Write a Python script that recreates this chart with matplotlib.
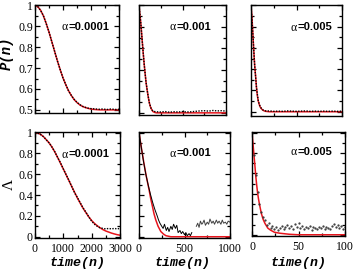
import matplotlib
matplotlib.use("Agg")
import matplotlib.pyplot as plt
from matplotlib.ticker import MultipleLocator, FormatStrFormatter

# ---- data ----
alphas = ["=0.0001", "=0.001", "=0.005"]

# alpha = 0.0001, P(n)
n_a1 = [0, 100, 200, 300, 400, 500, 600, 700, 800, 900, 1000, 1100, 1200, 1300, 1400, 1500,
        1600, 1700, 1800, 1900, 2000, 2100, 2200, 2300, 2400, 2500, 2600, 2700, 2800, 2900, 3000]
p_fit_a1 = [1.0, 0.994, 0.977, 0.950, 0.914, 0.872, 0.827, 0.780, 0.735, 0.692, 0.653, 0.620,
            0.591, 0.568, 0.549, 0.535, 0.524, 0.516, 0.511, 0.507, 0.504, 0.502, 0.501, 0.5,
            0.5, 0.5, 0.5, 0.5, 0.5, 0.5, 0.5]
p_sim_a1 = [1.0, 0.994, 0.976, 0.951, 0.913, 0.873, 0.826, 0.781, 0.734, 0.693, 0.652, 0.621,
            0.590, 0.569, 0.550, 0.536, 0.525, 0.517, 0.512, 0.508, 0.506, 0.505, 0.504, 0.503,
            0.504, 0.503, 0.502, 0.504, 0.503, 0.502, 0.503]

# alpha = 0.0001, Lambda
lam_fit_a1 = [1.0, 0.995, 0.982, 0.96, 0.93, 0.9, 0.86, 0.813, 0.76, 0.705, 0.65, 0.593, 0.537,
              0.48, 0.425, 0.37, 0.32, 0.272, 0.23, 0.19, 0.155, 0.128, 0.105, 0.085, 0.068,
              0.055, 0.045, 0.035, 0.027, 0.02, 0.015]
lam_sim_a1 = [1.0, 0.995, 0.98, 0.96, 0.93, 0.9, 0.86, 0.815, 0.76, 0.71, 0.65, 0.595, 0.54,
              0.48, 0.42, 0.375, 0.325, 0.275, 0.235, 0.19, 0.15, 0.12, 0.1, 0.085, 0.08,
              0.075, 0.08, 0.075, 0.08, 0.075, 0.08]

# alpha = 0.001
n_fit_a2 = [0, 10, 20, 30, 40, 50, 60, 70, 80, 90, 100, 110, 120, 130, 140, 150, 160, 180, 200,
            300, 1000]
p_fit_a2 = [1.0, 0.96, 0.92, 0.87, 0.82, 0.77, 0.725, 0.685, 0.645, 0.615, 0.59, 0.565, 0.545,
            0.53, 0.52, 0.512, 0.506, 0.502, 0.5, 0.5, 0.5]
n_sim_a2 = [0, 20, 40, 60, 80, 100, 120, 140, 160, 180, 200, 250, 300, 350, 400, 450, 500, 550,
            600, 650, 700, 750, 800, 850, 900, 950, 1000]
p_sim_a2 = [1.0, 0.92, 0.82, 0.725, 0.645, 0.59, 0.545, 0.52, 0.508, 0.506, 0.505, 0.504, 0.506,
            0.503, 0.505, 0.504, 0.506, 0.504, 0.505, 0.507, 0.509, 0.51, 0.508, 0.511, 0.509,
            0.51, 0.508]
n_lfit_a2 = [0, 25, 55, 80, 111, 130, 148, 165, 185, 210, 240, 270, 296, 350, 1000]
lam_fit_a2 = [1.0, 0.86, 0.70, 0.58, 0.45, 0.36, 0.29, 0.22, 0.16, 0.1, 0.05, 0.025, 0.01, 0.0, 0.0]
n_lsim_a2 = [0, 25, 50, 75, 100, 125, 150, 175, 200, 215, 230, 250, 265, 280, 300, 315, 330, 350,
             365, 380, 400, 415, 430, 450, 465, 480, 500, 515, 530, 550, 565, 580,
             630, 645, 660, 675, 690, 700, 715, 730, 750, 765, 780, 800, 815, 830, 850, 865,
             880, 900, 915, 930, 950, 965, 980, 1000]
lam_sim_a2 = [1.0, 0.86, 0.72, 0.6, 0.5, 0.41, 0.33, 0.26, 0.2, 0.16, 0.13, 0.1, 0.08, 0.12,
              0.06, 0.09, 0.05, 0.1, 0.07, 0.12, 0.08, 0.11, 0.04, 0.06, 0.03, 0.05, 0.02, 0.04,
              0.01, 0.03, 0.01, 0.04,
              0.1, 0.13, 0.09, 0.15, 0.12, 0.13, 0.16, 0.11, 0.14, 0.12, 0.17, 0.13, 0.15, 0.12,
              0.16, 0.13, 0.15, 0.12, 0.16, 0.13, 0.14, 0.12, 0.15, 0.14]

# alpha = 0.005
n_fit_a3 = [0, 1, 2, 3, 4, 5, 6, 7, 8, 9, 10, 12, 14, 16, 20, 30, 100]
p_fit_a3 = [1.0, 0.95, 0.87, 0.79, 0.72, 0.67, 0.615, 0.575, 0.55, 0.535, 0.523, 0.511, 0.505,
            0.502, 0.5, 0.5, 0.5]
n_sim_a3 = [0, 2, 4, 6, 8, 10, 12, 14, 16, 18, 20, 25, 30, 35, 40, 45, 50, 55, 60, 65, 70, 75,
            80, 85, 90, 95, 100]
p_sim_a3 = [1.0, 0.87, 0.72, 0.615, 0.55, 0.525, 0.512, 0.506, 0.504, 0.503, 0.504, 0.502, 0.503,
            0.502, 0.504, 0.503, 0.502, 0.503, 0.504, 0.502, 0.503, 0.502, 0.503, 0.502, 0.503,
            0.502, 0.503]
n_lfit_a3 = [0, 1, 2, 3, 4, 5, 6, 7, 8, 10, 12, 14, 17, 20, 24, 30, 35, 40, 50, 100]
lam_fit_a3 = [1.0, 0.9, 0.79, 0.69, 0.58, 0.49, 0.41, 0.35, 0.3, 0.21, 0.15, 0.11, 0.065, 0.045,
              0.025, 0.015, 0.01, 0.005, 0.0, 0.0]
n_lsim_a3 = list(range(0, 101, 2))
lam_sim_a3 = [1.0, 0.78, 0.58, 0.42, 0.3, 0.22, 0.17, 0.14, 0.1, 0.12, 0.07, 0.09, 0.06, 0.08,
              0.05, 0.07, 0.09, 0.06, 0.08, 0.1, 0.07, 0.09, 0.06, 0.11, 0.08, 0.12, 0.07, 0.09,
              0.06, 0.08, 0.07, 0.09, 0.05, 0.08, 0.07, 0.06, 0.08, 0.07, 0.09, 0.06, 0.08, 0.07,
              0.06, 0.09, 0.11, 0.08, 0.1, 0.07, 0.09, 0.06, 0.08]

# ---- figure ----
fig = plt.figure(figsize=(3.54, 2.73), dpi=100)
W, H = 354.0, 273.0


def box(x0, x1, y0, y1):
    return [x0 / W, 1 - y1 / H, (x1 - x0) / W, (y1 - y0) / H]


serif = "Liberation Serif"
mono = "Liberation Mono"


def style(ax, xmax, xmajor, ymajor, yminor, xlabels, ylabels):
    ax.set_xlim(0, xmax)
    ax.xaxis.set_major_locator(MultipleLocator(xmajor))
    ax.xaxis.set_minor_locator(MultipleLocator(xmajor / 2))
    ax.yaxis.set_major_locator(MultipleLocator(ymajor))
    ax.yaxis.set_minor_locator(MultipleLocator(yminor))
    ax.yaxis.set_major_formatter(FormatStrFormatter("%g"))
    ax.tick_params(which="both", direction="in", top=True, right=True, width=0.9)
    ax.tick_params(which="major", length=3.5)
    ax.tick_params(which="minor", length=2)
    ax.tick_params(axis="x", pad=3.5, labelbottom=xlabels)
    ax.tick_params(axis="y", pad=1.5, labelleft=ylabels)
    for lab in ax.get_xticklabels() + ax.get_yticklabels():
        lab.set_family(serif)
        lab.set_fontsize(8.5)
    for sp in ax.spines.values():
        sp.set_linewidth(1.0)


def alpha_label(ax, x, y, val):
    t = ax.text(x, y, val, transform=ax.transAxes, ha="right", va="center",
                fontsize=8, fontweight="bold", family="Liberation Sans")
    ax.annotate("α", xy=(0, 0.45), xycoords=t, xytext=(-0.5, 0), textcoords="offset points",
                ha="right", va="center", fontsize=8.5, family=serif)


red = "#e8141c"

# top row
ax = fig.add_axes(box(35, 119, 5, 113))
ax.plot(n_a1, p_fit_a1, color=red, lw=1.1)
ax.plot(n_a1, p_sim_a1, color="k", lw=1.0, ls=(0, (1, 1)))
ax.set_ylim(0.485, 1.002)
style(ax, 3000, 1000, 0.1, 0.05, False, True)
alpha_label(ax, 0.88, 0.80, alphas[0])

ax = fig.add_axes(box(139, 226, 5, 115))
ax.plot(n_fit_a2, p_fit_a2, color=red, lw=1.1)
ax.plot(n_sim_a2, p_sim_a2, color="k", lw=1.0, ls=(0, (1, 1)))
ax.set_ylim(0.49, 1.002)
style(ax, 1000, 500, 0.1, 0.05, False, False)
alpha_label(ax, 0.83, 0.80, alphas[1])

ax = fig.add_axes(box(251, 342, 5, 116))
ax.plot(n_fit_a3, p_fit_a3, color=red, lw=1.1)
ax.plot(n_sim_a3, p_sim_a3, color="k", lw=1.0, ls=(0, (1, 1)))
ax.set_ylim(0.48, 1.002)
style(ax, 100, 50, 0.1, 0.05, False, False)
alpha_label(ax, 0.89, 0.80, alphas[2])

# bottom row
ax = fig.add_axes(box(35, 120, 132, 238))
ax.plot(n_a1, lam_fit_a1, color=red, lw=1.1)
ax.plot(n_a1, lam_sim_a1, color="k", lw=1.0, ls=(0, (1, 1)))
ax.set_ylim(-0.012, 1.005)
style(ax, 3000, 1000, 0.2, 0.1, True, True)
alpha_label(ax, 0.88, 0.79, alphas[0])

ax = fig.add_axes(box(139, 230, 132, 238))
ax.plot(n_lfit_a2, lam_fit_a2, color=red, lw=1.1)
ax.plot(n_lsim_a2[:32], lam_sim_a2[:32], color="k", lw=0.7)
ax.plot(n_lsim_a2[32:], lam_sim_a2[32:], color="0.25", lw=0.7)
ax.set_ylim(-0.012, 1.005)
style(ax, 1000, 500, 0.2, 0.1, True, False)
alpha_label(ax, 0.79, 0.80, alphas[1])

ax = fig.add_axes(box(252, 345, 132, 236))
ax.plot(n_lfit_a3, lam_fit_a3, color=red, lw=1.1)
ax.plot(n_lsim_a3, lam_sim_a3, ".", color="0.2", ms=1.2)
ax.set_ylim(-0.012, 1.005)
style(ax, 100, 50, 0.2, 0.1, True, False)
alpha_label(ax, 0.86, 0.81, alphas[2])

# axis labels
fig.text(7 / W, 1 - 53 / H, "P(n)", rotation=90, ha="center", va="center",
         family=mono, fontweight="bold", fontstyle="italic", fontsize=10)
fig.text(9 / W, 1 - 184 / H, "Λ", rotation=90, ha="center", va="center",
         family=serif, fontsize=11)
for xc in (78, 183, 299):
    fig.text(xc / W, 1 - 263 / H, "time(n)", ha="center", va="center",
             family=mono, fontweight="bold", fontstyle="italic", fontsize=9.5)

fig.savefig("out.png", dpi=100)
